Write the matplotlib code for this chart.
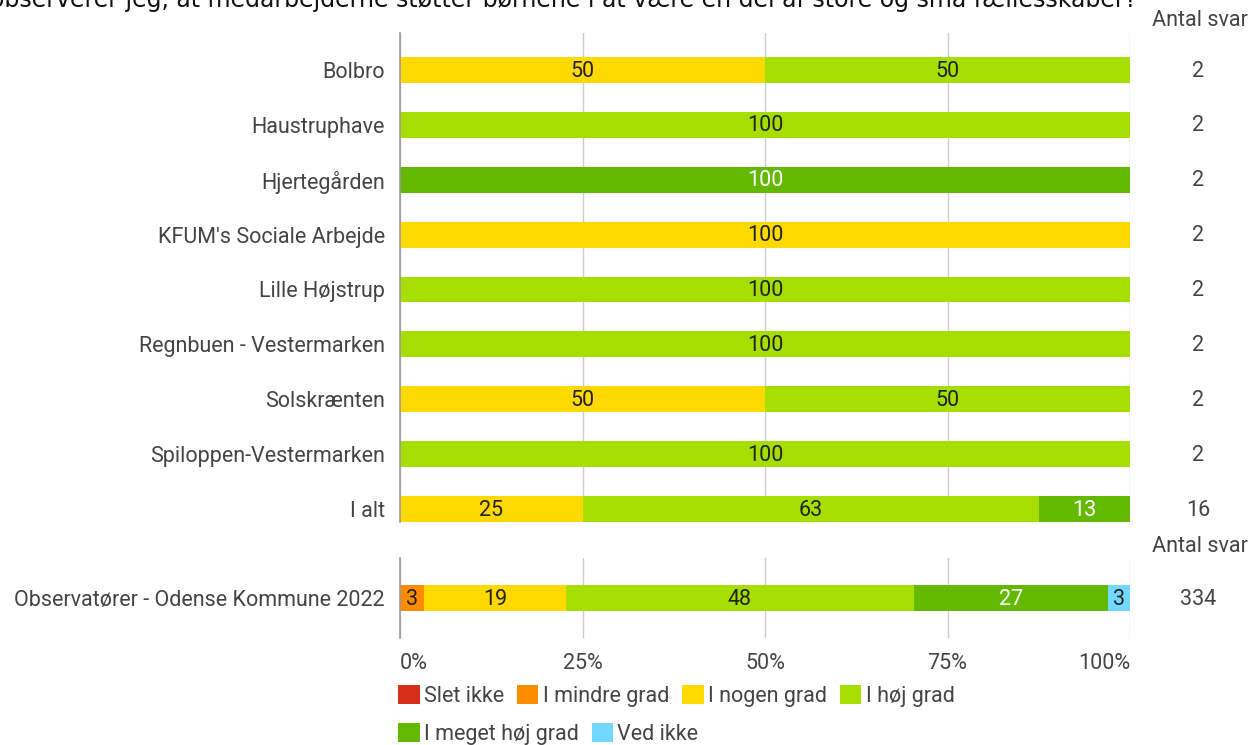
#!/usr/bin/env python3
"""Stacked 100% bars — observatører, fællesskaber."""
import matplotlib.pyplot as plt
import matplotlib.transforms as mtransforms

# ── data ──────────────────────────────────────────────────────────────────────
title = ("observerer jeg, at medarbejderne støtter børnene i at være "
         "en del af store og små fællesskaber?")

categories = ["Slet ikke", "I mindre grad", "I nogen grad", "I høj grad",
              "I meget høj grad", "Ved ikke"]
colors = ["#d7301a", "#ff8c00", "#ffd900", "#a5de00", "#64b900", "#73d8ff"]
text_colors = ["#ffffff", "#222222", "#222222", "#222222", "#ffffff", "#222222"]

units = ["Bolbro", "Haustruphave", "Hjertegården", "KFUM's Sociale Arbejde",
         "Lille Højstrup", "Regnbuen - Vestermarken", "Solskrænten",
         "Spiloppen-Vestermarken", "I alt"]
# percent per category, one list per category (order = units)
slet_ikke    = [0, 0, 0, 0, 0, 0, 0, 0, 0]
mindre_grad  = [0, 0, 0, 0, 0, 0, 0, 0, 0]
nogen_grad   = [50, 0, 0, 100, 0, 0, 50, 0, 25]
hoej_grad    = [50, 100, 0, 0, 100, 100, 50, 100, 62.5]
meget_hoej   = [0, 0, 100, 0, 0, 0, 0, 0, 12.5]
ved_ikke     = [0, 0, 0, 0, 0, 0, 0, 0, 0]
antal_svar   = [2, 2, 2, 2, 2, 2, 2, 2, 16]

ref_label = "Observatører - Odense Kommune 2022"
ref_values = [0, 3.29, 19.46, 47.60, 26.65, 2.99]
ref_antal = 334

xticks = [0, 25, 50, 75, 100]
xticklabels = ["0%", "25%", "50%", "75%", "100%"]

# ── style ─────────────────────────────────────────────────────────────────────
TEXT = "#444444"
GRID = "#cccccc"
AXIS = "#999999"
FS = 15.5
plt.rcParams.update({"font.family": ["Roboto", "DejaVu Sans"], "font.size": FS})

W, H = 1256, 745
fig = plt.figure(figsize=(W / 100, H / 100), dpi=100)

# title sits partly above the canvas, as in the source screenshot
fig.text(-10 / W, 1 - 7 / H, title, family="DejaVu Sans", fontsize=17,
         color="#111111", va="baseline", ha="left")


def px_axes(x0, y0, x1, y1):
    return fig.add_axes([x0 / W, 1 - y1 / H, (x1 - x0) / W, (y1 - y0) / H])


def style(ax):
    ax.set_xlim(0, 100)
    ax.set_xticks(xticks)
    ax.grid(True, axis="x", color=GRID, linewidth=1)
    ax.set_axisbelow(True)
    for s in ("top", "right", "bottom"):
        ax.spines[s].set_visible(False)
    ax.spines["left"].set_color(AXIS)
    ax.spines["left"].set_linewidth(1.2)
    ax.tick_params(length=0, colors=TEXT, labelsize=FS)


def stacked(ax, ypos, series, height):
    left = [0.0] * len(ypos)
    handles = []
    for vals, col, tcol in zip(series, colors, text_colors):
        h = ax.barh(ypos, vals, left=left, height=height, color=col,
                    edgecolor="none")
        handles.append(h)
        for y, l, v in zip(ypos, left, vals):
            if v > 0:
                ax.text(l + v / 2, y + 0.02, f"{int(v + 0.5)}", ha="center",
                        va="center", color=tcol, fontsize=FS)
        left = [a + b for a, b in zip(left, vals)]
    return handles


# ── top panel ────────────────────────────────────────────────────────────────
ax1 = px_axes(400, 33, 1130, 522)
style(ax1)
ypos = list(range(len(units)))
series = [slet_ikke, mindre_grad, nogen_grad, hoej_grad, meget_hoej, ved_ikke]
handles = stacked(ax1, ypos, series, 0.47)
ax1.set_ylim(8 + 13 / 54.9, -37 / 54.9)
ax1.set_yticks(ypos)
ax1.set_yticklabels(units)
ax1.tick_params(axis="y", pad=11)
ax1.set_xticklabels([])
tr1 = mtransforms.blended_transform_factory(ax1.transAxes, ax1.transData)
for y, n in zip(ypos, antal_svar):
    ax1.text(1.093, y + 0.02, str(n), transform=tr1, ha="center", va="center",
             color=TEXT)
fig.text(1248 / W, 1 - 21 / H, "Antal svar", ha="right", va="center",
         color=TEXT, fontsize=FS)

# ── reference panel ──────────────────────────────────────────────────────────
ax2 = px_axes(400, 558, 1130, 638)
style(ax2)
stacked(ax2, [0], [[v] for v in ref_values], 0.5)
ax2.set_ylim(0.77, -0.77)
ax2.set_yticks([0])
ax2.set_yticklabels([ref_label])
ax2.tick_params(axis="y", pad=11)
ax2.set_xticklabels(xticklabels)
ax2.tick_params(axis="x", pad=11)
lbls = ax2.get_xticklabels()
lbls[0].set_ha("left")
lbls[-1].set_ha("right")
tr2 = mtransforms.blended_transform_factory(ax2.transAxes, ax2.transData)
ax2.text(1.093, 0.02, str(ref_antal), transform=tr2, ha="center", va="center",
         color=TEXT)
fig.text(1248 / W, 1 - 547 / H, "Antal svar", ha="right", va="center",
         color=TEXT, fontsize=FS)

# ── legend (flow layout, two rows) ───────────────────────────────────────────
leg_kw = dict(frameon=False, handlelength=1.0, handleheight=1.0,
              handletextpad=0.2, columnspacing=0.6, fontsize=FS,
              labelcolor=TEXT, loc="upper left", borderaxespad=0, borderpad=0)
l1 = fig.legend(handles[:4], categories[:4], ncol=4,
                bbox_to_anchor=(398 / W, 1 - 685 / H), **leg_kw)
l2 = fig.legend(handles[4:], categories[4:], ncol=2,
                bbox_to_anchor=(398 / W, 1 - 723 / H), **leg_kw)

fig.savefig("out.png", dpi=100)
